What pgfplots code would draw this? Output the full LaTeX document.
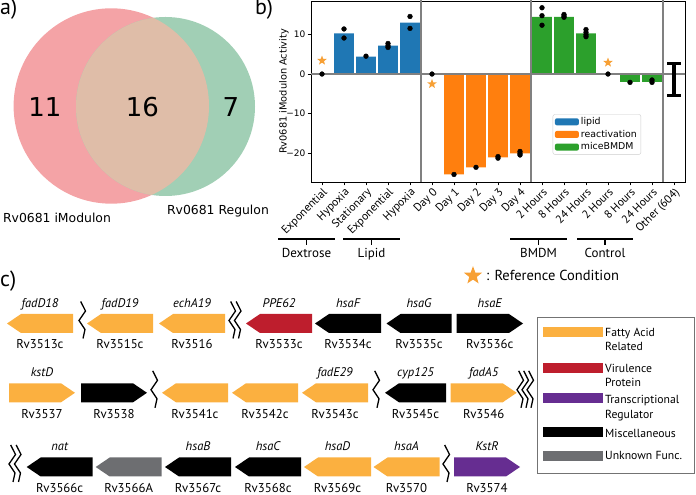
\documentclass[border=0pt]{standalone}
\usepackage{pgfplots}
\pgfplotsset{compat=1.18}
\usetikzlibrary{shapes.geometric}
\usepackage{fontspec}
\setmainfont{PT Sans}
\newfontfamily\dejavu{DejaVu Sans}
\definecolor{tblue}{HTML}{1F77B4}
\definecolor{torange}{HTML}{FF7F0E}
\definecolor{tgreen}{HTML}{2CA02C}
\definecolor{starc}{HTML}{F7A035}
\definecolor{gorange}{HTML}{FBB040}
\definecolor{gred}{HTML}{BE1E2D}
\definecolor{gpurple}{HTML}{662D91}
\definecolor{ggray}{HTML}{6D6E71}
\definecolor{vpink}{HTML}{F4A3A6}
\definecolor{vgreen}{HTML}{A1CFB5}
\definecolor{vmix}{HTML}{DFBDA8}

\pgfdeclareplotmark{fstar}{%
  \pgfpathmoveto{\pgfpointpolar{90}{\pgfplotmarksize}}%
  \pgfpathlineto{\pgfpointpolar{126}{0.42\pgfplotmarksize}}%
  \pgfpathlineto{\pgfpointpolar{162}{\pgfplotmarksize}}%
  \pgfpathlineto{\pgfpointpolar{198}{0.42\pgfplotmarksize}}%
  \pgfpathlineto{\pgfpointpolar{234}{\pgfplotmarksize}}%
  \pgfpathlineto{\pgfpointpolar{270}{0.42\pgfplotmarksize}}%
  \pgfpathlineto{\pgfpointpolar{306}{\pgfplotmarksize}}%
  \pgfpathlineto{\pgfpointpolar{342}{0.42\pgfplotmarksize}}%
  \pgfpathlineto{\pgfpointpolar{18}{\pgfplotmarksize}}%
  \pgfpathlineto{\pgfpointpolar{54}{0.42\pgfplotmarksize}}%
  \pgfpathclose
  \pgfusepathqfill
}

\newcommand{\gfont}{\fontsize{12.8}{14}\selectfont}
\newcommand{\nfont}{\itshape\fontsize{12.5}{14}\selectfont}
\newcommand{\geneL}[6]{%
  \fill[#4] (#1,#3) -- ({#1+14},{#3-9.5}) -- (#2,{#3-9.5}) -- (#2,{#3+9.5}) -- ({#1+14},{#3+9.5}) -- cycle;
  \node[font=\nfont, anchor=base, inner sep=0pt] at ({(#1+#2)/2},{#3-16}) {#5};
  \node[font=\gfont, anchor=base, inner sep=0pt] at ({(#1+#2)/2},{#3+25.5}) {#6};}
\newcommand{\geneR}[6]{%
  \fill[#4] (#2,#3) -- ({#2-14},{#3-9.5}) -- (#1,{#3-9.5}) -- (#1,{#3+9.5}) -- ({#2-14},{#3+9.5}) -- cycle;
  \node[font=\nfont, anchor=base, inner sep=0pt] at ({(#1+#2)/2},{#3-16}) {#5};
  \node[font=\gfont, anchor=base, inner sep=0pt] at ({(#1+#2)/2},{#3+25.5}) {#6};}
\newcommand{\zig}[2]{%
  \draw[line width=1.3pt] ({#1-2.3},{#2-22}) -- ({#1+2.5},{#2-12.5}) -- ({#1-4},{#2-3}) -- ({#1+2},{#2+6}) -- ({#1},{#2+15});}

\begin{document}
\begin{tikzpicture}
\path[use as bounding box] (0,0) rectangle (696pt,495pt);

\begin{axis}[at={(311pt,313pt)}, anchor=south west, scale only axis,
  width=374pt, height=181pt,
  xmin=-0.5, xmax=16.5, ymin=-27.2, ymax=18.4,
  axis line style={black, line width=0.8pt},
  tick align=outside, tick pos=left, major tick length=3.5pt,
  tick style={black, line width=0.8pt},
  xtick={0,...,16},
  xticklabels={Exponential,Hypoxia,Stationary,Exponential,Hypoxia,Day 0,Day 1,Day 2,Day 3,Day 4,2 Hours,8 Hours,24 Hours,2 Hours,8 Hours,24 Hours,Other (604)},
  xticklabel style={rotate=45, anchor=north east, font=\fontsize{11.5}{13}\selectfont, inner sep=1pt},
  ytick={-20,-10,0,10},
  yticklabels={−20,−10,0,10},
  yticklabel style={font=\dejavu\fontsize{9}{10}\selectfont, inner sep=2pt},
  ylabel={Rv0681 iModulon Activity},
  ylabel style={font=\dejavu\fontsize{9.8}{11}\selectfont, at={(axis description cs:-0.0722,0.5)}, anchor=center},
  legend style={at={(axis description cs:0.6463,0.374)}, anchor=north west,
    draw=black!20, rounded corners=2pt, font=\dejavu\fontsize{9.4}{11}\selectfont,
    inner xsep=2pt, inner ysep=1pt, row sep=0pt, cells={anchor=west}},
]
\addplot[ybar, bar width=0.9, bar shift=0pt, fill=tblue, draw=none,
  legend image code/.code={\fill[tblue] (0pt,-3.5pt) rectangle (24pt,3.5pt);}]
  coordinates {(0,0) (1,10.25) (2,4.4) (3,7.15) (4,12.97)};
\addlegendentry{lipid}
\addplot[ybar, bar width=0.9, bar shift=0pt, fill=torange, draw=none,
  legend image code/.code={\fill[torange] (0pt,-3.5pt) rectangle (24pt,3.5pt);}]
  coordinates {(5,0) (6,-25.3) (7,-23.5) (8,-21.0) (9,-20.0)};
\addlegendentry{reactivation}
\addplot[ybar, bar width=0.9, bar shift=0pt, fill=tgreen, draw=none,
  legend image code/.code={\fill[tgreen] (0pt,-3.5pt) rectangle (24pt,3.5pt);}]
  coordinates {(10,14.4) (11,14.4) (12,10.25) (13,0) (14,-1.95) (15,-1.95)};
\addlegendentry{miceBMDM}
% separators
\addplot[black!50, line width=1.4pt, forget plot] coordinates {(4.5,-30) (4.5,20)};
\addplot[black!50, line width=1.4pt, forget plot] coordinates {(9.5,-30) (9.5,20)};
\addplot[black!50, line width=1.4pt, forget plot] coordinates {(15.5,-30) (15.5,20)};
\addplot[black!50, line width=1.4pt, forget plot] coordinates {(-1,0) (17,0)};
% sample points
\addplot[only marks, mark=*, mark size=2.4pt, black, forget plot] coordinates {
 (0,0) (1,11.35) (1,9.07) (2,4.5) (3,7.7) (3,7.1) (3,6.7) (4,14.5) (4,11.5)
 (5,0) (6,-25.3) (7,-23.5) (8,-20.8) (8,-21.2) (9,-19.5) (9,-20.0) (9,-20.4)
 (10,16.7) (10,14.7) (10,12.3) (11,15.0) (11,14.6) (11,14.3)
 (12,11.2) (12,10.5) (12,9.9) (12,9.4) (13,0) (14,-2.1) (15,-1.5) (15,-2.1)};
% reference stars
\addplot[only marks, mark=fstar, mark size=5pt, color=starc, forget plot] coordinates {(0,3.4) (5,-2.5) (13,2.9)};
% other (604) range
\addplot[black, line width=4pt, forget plot] coordinates {(16,-5.4) (16,2.6)};
\addplot[black, line width=3.5pt, forget plot] coordinates {(15.7,2.6) (16.3,2.6)};
\addplot[black, line width=3.5pt, forget plot] coordinates {(15.7,-5.4) (16.3,-5.4)};
\end{axis}

\begin{scope}[shift={(0pt,495pt)}, x=1pt, y=-1pt]
% ---- panel a: Venn ----
\fill[vpink] (111.3,106) circle[radius=97.7pt];
\fill[vgreen] (165.5,106.5) circle[radius=89.5pt];
\begin{scope}
\clip (111.3,106) circle[radius=97.7pt];
\fill[vmix] (165.5,106.5) circle[radius=89.5pt];
\end{scope}
\node[font=\dejavu\fontsize{26}{30}\selectfont, anchor=base, inner sep=0pt] at (45,116.7) {11};
\node[font=\dejavu\fontsize{26}{30}\selectfont, anchor=base, inner sep=0pt] at (142.5,116.7) {16};
\node[font=\dejavu\fontsize{26}{30}\selectfont, anchor=base, inner sep=0pt] at (231,116.7) {7};
\node[font=\dejavu\fontsize{12.4}{14}\selectfont, anchor=base, inner sep=0pt] at (57,222.7) {Rv0681 iModulon};
\node[font=\dejavu\fontsize{12.4}{14}\selectfont, anchor=base, inner sep=0pt] at (218,214.3) {Rv0681 Regulon};
% panel labels
\node[font=\fontsize{22}{24}\selectfont, anchor=base west, inner sep=0pt] at (0,15) {a)};
\node[font=\fontsize{22}{24}\selectfont, anchor=base west, inner sep=0pt] at (255,15) {b)};
\node[font=\fontsize{22}{24}\selectfont, anchor=base west, inner sep=0pt] at (0,286.7) {c)};
% ---- brackets under panel b ----
\foreach \a/\b/\c/\t in {278/335/306.5/Dextrose, 343/400/371.5/Lipid, 510/567/538.5/BMDM, 577/633/605/Control}{
  \draw[line width=1.3pt] (\a,239) -- (\b,239);
  \draw[line width=1.3pt] (\c,239) -- (\c,245.5);
  \node[font=\fontsize{13}{15}\selectfont, anchor=base, inner sep=0pt] at (\c,257.3) {\t};
}
\node[star, star points=5, star point ratio=2.4, fill=starc, inner sep=0pt, minimum size=19pt] at (473,275.7) {};
\node[font=\fontsize{14.5}{16}\selectfont, anchor=base west, inner sep=0pt] at (486,280.7) {: Reference Condition};
% ---- panel c: genes ----
% row 1
\geneL{7}{73}{323.5}{gorange}{fadD18}{Rv3513c}
\zig{83}{323.5}
\geneL{87}{153}{323.5}{gorange}{fadD19}{Rv3515c}
\geneL{159}{225}{323.5}{gorange}{echA19}{Rv3516}
\zig{233}{323.5}\zig{238.5}{323.5}
\geneL{246}{312}{323.5}{gred}{PPE62}{Rv3533c}
\geneL{315}{381}{323.5}{black}{hsaF}{Rv3534c}
\geneL{386.5}{451.5}{323.5}{black}{hsaG}{Rv3535c}
\geneR{456.5}{523}{323.5}{black}{hsaE}{Rv3536c}
% row 2
\geneR{9}{75}{392.8}{gorange}{kstD}{Rv3537}
\geneR{81}{147}{392.8}{black}{}{Rv3538}
\zig{155}{392.8}
\geneL{162}{228}{392.8}{gorange}{}{Rv3541c}
\geneL{232}{298}{392.8}{gorange}{}{Rv3542c}
\geneL{302}{368}{392.8}{gorange}{fadE29}{Rv3543c}
\zig{377}{392.8}
\geneL{385}{446}{392.8}{black}{cyp125}{Rv3545c}
\geneR{450.7}{516.7}{392.8}{gorange}{fadA5}{Rv3546}
\zig{521}{392.8}\zig{526}{392.8}\zig{531}{392.8}
% row 3
\zig{13}{467}\zig{18.5}{467}
\geneL{26.7}{92.7}{467}{black}{nat}{Rv3566c}
\geneL{95.7}{161.7}{467}{ggray}{}{Rv3566A}
\geneL{165}{231}{467}{black}{hsaB}{Rv3567c}
\geneL{235}{301}{467}{black}{hsaC}{Rv3568c}
\geneL{304}{371}{467}{gorange}{hsaD}{Rv3569c}
\geneL{373.5}{439.5}{467}{gorange}{hsaA}{Rv3570}
\zig{447}{467}
\geneR{454}{520}{467}{gpurple}{KstR}{Rv3574}
% gene legend
\draw[black!55, line width=0.9pt] (537,317) rectangle (694,473);
\fill[gorange] (542.7,326.7) rectangle (602.7,336.7);
\fill[gred] (542.7,363) rectangle (602.7,373);
\fill[gpurple] (542.7,393) rectangle (602.7,403);
\fill[black] (542.7,427.5) rectangle (602.7,437.5);
\fill[ggray] (542.7,451) rectangle (602.7,461);
\foreach \y/\t in {336.7/Fatty Acid, 350.7/Related, 372.3/Virulence, 386.7/Protein, 403.3/Transcriptional, 418.3/Regulator, 437.3/Miscellaneous, 460/Unknown Func.}{
  \node[font=\fontsize{11.7}{13}\selectfont, anchor=base west, inner sep=0pt] at (605,\y) {\t};
}
\end{scope}
\end{tikzpicture}
\end{document}
